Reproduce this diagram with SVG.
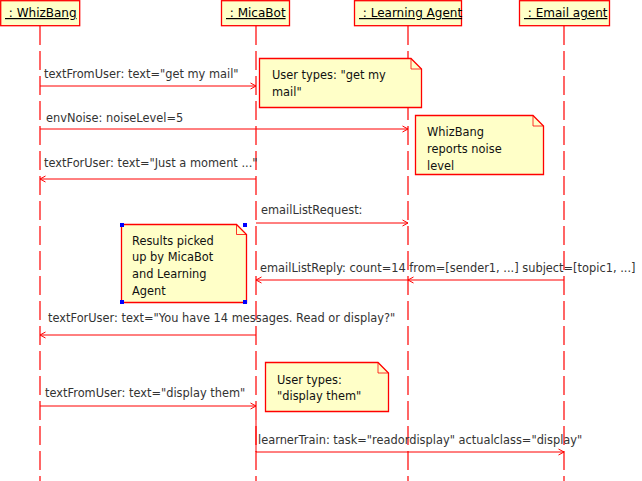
<svg xmlns="http://www.w3.org/2000/svg" width="642" height="481" viewBox="0 0 642 481">
<style>
.box{fill:#ffffc8;stroke:#ff0000;stroke-width:1.3}
.hd{font-family:"DejaVu Sans",sans-serif;font-size:12px;fill:#000;text-decoration:underline}
.life{stroke:#ff0000;stroke-width:1.2;stroke-dasharray:19,6;fill:none}
.msg{stroke:#ff0000;stroke-width:1;fill:none}
.lbl{font-family:"DejaVu Sans",sans-serif;font-size:11.4px;fill:#333}
.note{fill:#ffffc8;stroke:#ff0000;stroke-width:1.3}
.fold{fill:none;stroke:#ff0000;stroke-width:0.8}
.nt{font-family:"DejaVu Sans",sans-serif;font-size:11.4px;fill:#111}
.h{fill:#0000ff}
</style>
<defs>
<marker id="ah" markerWidth="8" markerHeight="8" refX="7" refY="4" orient="auto" markerUnits="userSpaceOnUse">
<path d="M1.5,1 L7,4 L1.5,7" fill="none" stroke="#ff0000" stroke-width="1"/>
</marker>
</defs>
<rect width="642" height="481" fill="#ffffff"/>
<g id="lifelines">
<line class="life" x1="40" y1="26" x2="40" y2="481"/>
<line class="life" x1="256" y1="26" x2="256" y2="481"/>
<line class="life" x1="408" y1="26" x2="408" y2="481"/>
<line class="life" x1="564" y1="26" x2="564" y2="481"/>
</g>
<g id="whizbang">
<rect class="box" x="0.7" y="0.7" width="79" height="25"/>
<text class="hd" x="5" y="17" xml:space="preserve"> : WhizBang</text>
</g>
<g id="micabot">
<rect class="box" x="221.5" y="0.7" width="68" height="25"/>
<text class="hd" x="226" y="17" xml:space="preserve"> : MicaBot</text>
</g>
<g id="learningagent">
<rect class="box" x="354.5" y="0.7" width="107" height="25"/>
<text class="hd" x="359" y="17" xml:space="preserve"> : Learning Agent</text>
</g>
<g id="emailagent">
<rect class="box" x="519.5" y="0.7" width="90" height="25"/>
<text class="hd" x="524" y="17" xml:space="preserve"> : Email agent</text>
</g>
<g id="connectors">
<line class="msg" x1="40" y1="86" x2="256" y2="86" marker-end="url(#ah)"/>
<text class="lbl" x="44" y="78">textFromUser: text="get my mail"</text>
<line class="msg" x1="40" y1="129" x2="408" y2="129" marker-end="url(#ah)"/>
<text class="lbl" x="46" y="122">envNoise: noiseLevel=5</text>
<line class="msg" x1="256" y1="179" x2="40" y2="179" marker-end="url(#ah)"/>
<text class="lbl" x="44" y="167">textForUser: text="Just a moment ..."</text>
<line class="msg" x1="256" y1="223" x2="408" y2="223" marker-end="url(#ah)"/>
<text class="lbl" x="261" y="214">emailListRequest:</text>
<line class="msg" x1="564" y1="280" x2="408" y2="280" marker-end="url(#ah)"/>
<line class="msg" x1="408" y1="280" x2="256" y2="280" marker-end="url(#ah)"/>
<text class="lbl" x="260" y="272">emailListReply: count=14 from=[sender1, ...] subject=[topic1, ...]</text>
<line class="msg" x1="256" y1="335" x2="40" y2="335" marker-end="url(#ah)"/>
<text class="lbl" x="48" y="322">textForUser: text="You have 14 messages. Read or display?"</text>
<line class="msg" x1="40" y1="406" x2="256" y2="406" marker-end="url(#ah)"/>
<text class="lbl" x="45" y="397">textFromUser: text="display them"</text>
<line class="msg" x1="256" y1="452" x2="564" y2="452" marker-end="url(#ah)"/>
<line class="msg" x1="256" y1="420" x2="256" y2="452"/>
<text class="lbl" x="258" y="444">learnerTrain: task="readordisplay" actualclass="display"</text>
</g>
<g id="note1">
<path class="note" d="M259.5,58.5 H411 L421.5,69 V107.5 H259.5 Z"/>
<path class="fold" d="M411,58.5 V69 H421.5"/>
<text class="nt" x="272" y="79">User types: "get my</text>
<text class="nt" x="272" y="96">mail"</text>
</g>
<g id="note2">
<path class="note" d="M415.5,115.5 H533 L543.5,126 V174.5 H415.5 Z"/>
<path class="fold" d="M533,115.5 V126 H543.5"/>
<text class="nt" x="427" y="136">WhizBang</text>
<text class="nt" x="427" y="153">reports noise</text>
<text class="nt" x="427" y="169.5">level</text>
</g>
<g id="note3">
<path class="note" d="M121.5,224.5 H236.5 L246.5,234.5 V302.5 H121.5 Z"/>
<path class="fold" d="M236.5,224.5 V234.5 H246.5"/>
<text class="nt" x="132" y="244.5">Results picked</text>
<text class="nt" x="132" y="261">up by MicaBot</text>
<text class="nt" x="132" y="278">and Learning</text>
<text class="nt" x="132" y="294.5">Agent</text>
<rect class="h" x="120" y="223" width="4" height="4"/>
<rect class="h" x="243" y="223" width="4" height="4"/>
<rect class="h" x="120" y="300" width="4" height="4"/>
<rect class="h" x="243" y="300" width="4" height="4"/>
</g>
<g id="note4">
<path class="note" d="M265.5,362.5 H378 L388.5,373 V411.5 H265.5 Z"/>
<path class="fold" d="M378,362.5 V373 H388.5"/>
<text class="nt" x="277" y="383.5">User types:</text>
<text class="nt" x="277" y="400">"display them"</text>
</g>
</svg>
